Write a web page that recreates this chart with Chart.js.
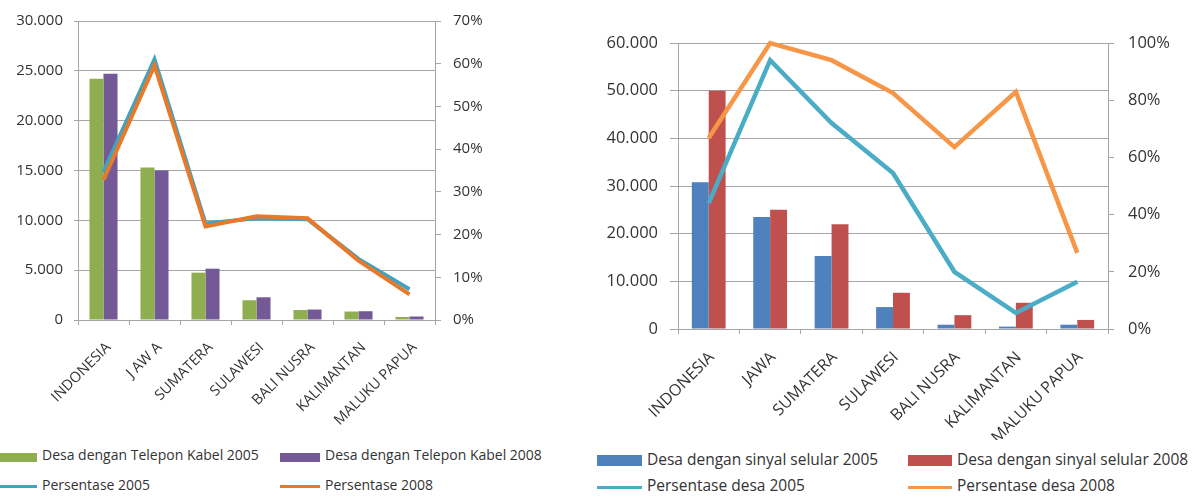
<!DOCTYPE html>
<html>
<head>
<meta charset="utf-8">
<script src="https://cdn.jsdelivr.net/npm/chart.js@4.4.1/dist/chart.umd.min.js"></script>
<style>
	body { margin: 0; background: #fff; width: 1195px; height: 497px; overflow: hidden; position: relative; font-family: "Open Sans", sans-serif; color: #333; }
	canvas { position: absolute; top: 0; }
	#chartLeft { left: 0; }
	#chartRight { left: 580px; }
	.lg { position: absolute; white-space: nowrap; line-height: 1; }
	.sw { position: absolute; }
</style>
</head>
<body>
<canvas id="chartLeft" width="560" height="440"></canvas>
<canvas id="chartRight" width="615" height="440"></canvas>

<!-- legends -->
<div class="sw" style="left:0;top:453px;width:37px;height:9px;background:#8FAE4F"></div>
<div class="lg" style="left:42px;top:448px;font-size:14px">Desa dengan Telepon Kabel 2005</div>
<div class="sw" style="left:280px;top:453px;width:40px;height:9px;background:#735996"></div>
<div class="lg" style="left:325px;top:448px;font-size:14px">Desa dengan Telepon Kabel 2008</div>
<div class="sw" style="left:0;top:485px;width:37px;height:3px;background:#3FA4C0"></div>
<div class="lg" style="left:42px;top:478px;font-size:14px">Persentase 2005</div>
<div class="sw" style="left:280px;top:485px;width:40px;height:3px;background:#E8782A"></div>
<div class="lg" style="left:325px;top:478px;font-size:14px">Persentase 2008</div>

<div class="sw" style="left:597px;top:455px;width:45px;height:11px;background:#4F81BD"></div>
<div class="lg" style="left:647px;top:452px;font-size:15.5px">Desa dengan sinyal selular 2005</div>
<div class="sw" style="left:908px;top:455px;width:44px;height:11px;background:#C0504D"></div>
<div class="lg" style="left:957px;top:452px;font-size:15.5px">Desa dengan sinyal selular 2008</div>
<div class="sw" style="left:597px;top:486px;width:45px;height:3px;background:#4BACC6"></div>
<div class="lg" style="left:647px;top:478px;font-size:15.5px">Persentase desa 2005</div>
<div class="sw" style="left:908px;top:486px;width:44px;height:3px;background:#F79646"></div>
<div class="lg" style="left:957px;top:478px;font-size:15.5px">Persentase desa 2008</div>

<script>
// --- Data: left chart (telepon kabel) ---
const categoriesLeft = ["INDONESIA", "J AW A", "SUMATERA", "SULAWESI", "BALI NUSRA", "KALIMANTAN", "MALUKU PAPUA"];
const kabel2005 = [24200, 15300, 4750, 1980, 1000, 850, 300];
const kabel2008 = [24700, 15000, 5150, 2280, 1050, 880, 350];
const persen2005 = [34.7, 61, 22.6, 23.8, 23.6, 14.3, 7.2];
const persen2008 = [32.8, 59.6, 21.9, 24.3, 23.8, 13.9, 6.0];

// --- Data: right chart (sinyal selular) ---
const categoriesRight = ["INDONESIA", "JAWA", "SUMATERA", "SULAWESI", "BALI NUSRA", "KALIMANTAN", "MALUKU PAPUA"];
const selular2005 = [30800, 23500, 15300, 4600, 900, 500, 900];
const selular2008 = [50000, 25000, 22000, 7600, 2900, 5500, 1900];
const persenDesa2005 = [44, 94, 72, 54.5, 20, 5.6, 16.5];
const persenDesa2008 = [66.8, 100, 94, 82.5, 63.6, 82.9, 26.6];

const TXT = "#333333";
const GRID = "#A6A6A6";

// 30000 -> "30.000"
const fmtThousand = (v) => String(v).replace(/\B(?=(\d{3})+(?!\d))/g, ".");

function makeChart(id, cfg) {
	const fam = "'Open Sans', sans-serif";
	const xFont = { family: fam, size: cfg.xFont };
	const yFont = { family: fam, size: cfg.yFont };
	return new Chart(document.getElementById(id), {
		data: {
			labels: cfg.labels,
			datasets: [
				{ type: "line", data: cfg.line2, borderColor: cfg.colors[3], borderWidth: cfg.lineWidth, pointRadius: 0, yAxisID: "y1", order: 0, clip: false, tension: 0 },
				{ type: "line", data: cfg.line1, borderColor: cfg.colors[2], borderWidth: cfg.lineWidth, pointRadius: 0, yAxisID: "y1", order: 1, clip: false, tension: 0 },
				{ type: "bar", data: cfg.bar1, backgroundColor: cfg.colors[0], yAxisID: "y", order: 2, categoryPercentage: 0.55, barPercentage: 1 },
				{ type: "bar", data: cfg.bar2, backgroundColor: cfg.colors[1], yAxisID: "y", order: 2, categoryPercentage: 0.55, barPercentage: 1 },
			],
		},
		options: {
			responsive: false,
			animation: false,
			layout: { padding: { top: cfg.top, left: 0, right: 0 } },
			plugins: { legend: { display: false }, tooltip: { enabled: false } },
			scales: {
				x: {
					offset: true,
					grid: { offset: true, drawOnChartArea: false, tickLength: 5, color: GRID },
					border: { color: GRID },
					ticks: { color: TXT, font: xFont, autoSkip: false, minRotation: 45, maxRotation: 45, padding: cfg.xPad, labelOffset: cfg.xShift },
					afterFit: (s) => { s.height = cfg.xHeight; },
				},
				y: {
					position: "left",
					min: 0, max: cfg.yMax,
					grid: { color: GRID, tickLength: cfg.tickLen },
					border: { color: GRID },
					ticks: { stepSize: cfg.yStep, color: TXT, font: yFont, padding: cfg.tickPad, callback: fmtThousand },
					afterFit: (s) => { s.width = cfg.yWidth; },
				},
				y1: {
					position: "right",
					min: 0, max: cfg.pMax,
					grid: { drawOnChartArea: false, tickLength: 6, color: GRID },
					border: { color: GRID },
					ticks: { stepSize: cfg.pStep, color: TXT, font: yFont, padding: cfg.pPad, callback: (v) => v + "%" },
					afterFit: (s) => { s.width = cfg.y1Width; },
				},
			},
		},
	});
}

makeChart("chartLeft", {
	labels: categoriesLeft,
	bar1: kabel2005, bar2: kabel2008, line1: persen2005, line2: persen2008,
	colors: ["#8FAE4F", "#735996", "#3FA4C0", "#E8782A"],
	lineWidth: 4, xFont: 14.5, yFont: 15,
	yMax: 30000, yStep: 5000, pMax: 70, pStep: 10,
	top: 17, xHeight: 120, yWidth: 78, y1Width: 125, tickLen: 4, tickPad: 11,
	xPad: 14, xShift: 5, pPad: 12,
});

makeChart("chartRight", {
	labels: categoriesRight,
	bar1: selular2005, bar2: selular2008, line1: persenDesa2005, line2: persenDesa2008,
	colors: ["#4F81BD", "#C0504D", "#4BACC6", "#F79646"],
	lineWidth: 4.5, xFont: 16, yFont: 16.5,
	yMax: 60000, yStep: 10000, pMax: 100, pStep: 20,
	top: 43, xHeight: 111, yWidth: 98, y1Width: 87, tickLen: 8, tickPad: 12,
	xPad: 14, xShift: 3, pPad: 14,
});
</script>
</body>
</html>
